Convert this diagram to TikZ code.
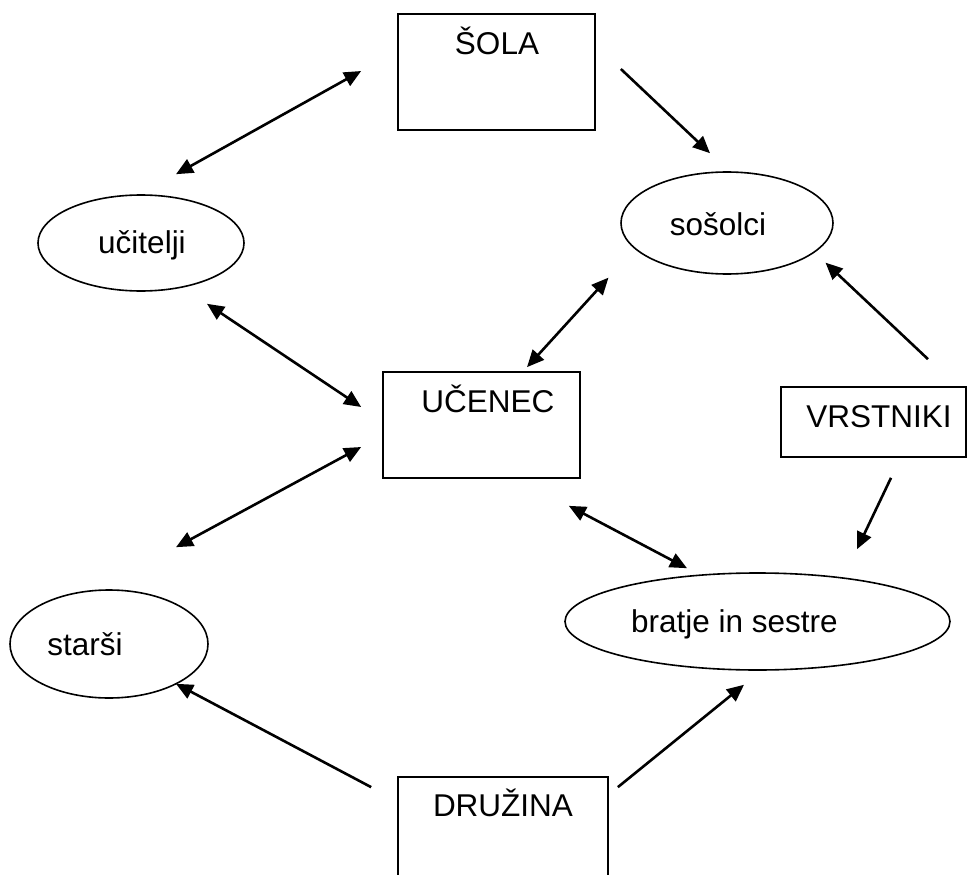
\documentclass[tikz,border=0pt]{standalone}
\usepackage{fontspec}
\setmainfont{Liberation Sans}
\usetikzlibrary{shapes.geometric, arrows.meta}

\tikzset{
  box/.style={draw, rectangle, line width=1.7pt, inner sep=0pt},
  oval/.style={draw, ellipse, line width=1.6pt, inner sep=0pt},
  lbl/.style={anchor=base, inner sep=0pt, font=\fontsize{31.5}{38}\selectfont},
  tip/.tip={Triangle[length=17pt, width=15pt]},
  onearrow/.style={-tip, line width=2.6pt},
  twoarrow/.style={tip-tip, line width=2.6pt}
}

\begin{document}
\begin{tikzpicture}[x=1pt, y=-1pt]
\useasboundingbox (0,0) rectangle (970,875);
\clip (0,0) rectangle (970,875);

\node[box, minimum width=197pt, minimum height=116pt] (sola) at (496.5,72) {};
\node[box, minimum width=197pt, minimum height=106pt] (ucenec) at (481.5,425) {};
\node[box, minimum width=185pt, minimum height=70pt] (vrstniki) at (873.5,422) {};
\node[box, minimum width=210pt, minimum height=126pt] (druzina) at (503,840) {};
\node[oval, minimum width=206pt, minimum height=96pt] (ucitelji) at (141,243) {};
\node[oval, minimum width=212pt, minimum height=102pt] (sosolci) at (727,223) {};
\node[oval, minimum width=198pt, minimum height=108pt] (starsi) at (109,644) {};
\node[oval, minimum width=385pt, minimum height=97pt] (bratje) at (757.5,621.5) {};

\node[lbl] (sola-t) at (497,55) {ŠOLA};
\node[lbl] (ucenec-t) at (488,412) {UČENEC};
\node[lbl] (vrstniki-t) at (879,427) {VRSTNIKI};
\node[lbl] (druzina-t) at (503,816) {DRUŽINA};
\node[lbl] (ucitelji-t) at (142,253) {učitelji};
\node[lbl] (sosolci-t) at (718,235) {sošolci};
\node[lbl] (starsi-t) at (85,655) {starši};
\node[lbl] (bratje-t) at (734.5,632) {bratje in sestre};

\draw[twoarrow] ([shift={(-36,-1)}]sola.west) -- ([shift={(35,-20)}]ucitelji.north);
\draw[onearrow] ([shift={(25,-3)}]sola.east) -- ([shift={(-17,-18)}]sosolci.north);
\draw[twoarrow] ([shift={(66,12)}]ucitelji.south) -- ([shift={(-21,-18)}]ucenec.west);
\draw[twoarrow] ([shift={(-43,18)}]sosolci.south west) -- ([shift={(45.5,-4)}]ucenec.north);
\draw[onearrow] ([shift={(54.5,-27)}]vrstniki.north) -- ([shift={(23,3)}]sosolci.south east);
\draw[twoarrow] ([shift={(-21,22)}]ucenec.west) -- ([shift={(67,-42)}]starsi.north);
\draw[twoarrow] ([shift={(-12,27)}]ucenec.south east) -- ([shift={(-70.5,-4)}]bratje.north);
\draw[onearrow] ([shift={(17.5,20)}]vrstniki.south) -- ([shift={(99.5,-23)}]bratje.north);
\draw[onearrow] ([shift={(-26,11)}]druzina.north west) -- ([shift={(67,-15)}]starsi.south);
\draw[onearrow] ([shift={(9,11)}]druzina.north east) -- ([shift={(-13.5,14)}]bratje.south);
\end{tikzpicture}
\end{document}
